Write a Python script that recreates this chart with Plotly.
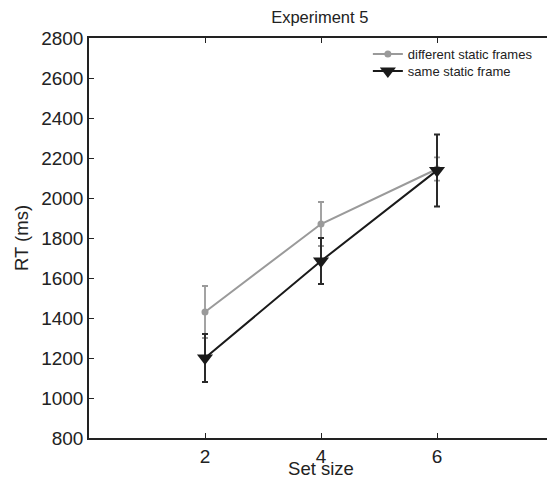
import plotly.graph_objects as go

set_sizes = [2, 4, 6]
diff_rt = [1430, 1870, 2145]
diff_err = [130, 110, 58]
same_rt = [1200, 1685, 2138]
same_err = [120, 115, 180]
y_ticks = [800, 1000, 1200, 1400, 1600, 1800, 2000, 2200, 2400, 2600, 2800]

fig = go.Figure()
fig.add_trace(go.Scatter(
    x=set_sizes, y=diff_rt, mode="lines+markers", name="different static frames",
    line=dict(color="#9a9a9a", width=2),
    marker=dict(symbol="circle", size=7, color="#9a9a9a"),
    error_y=dict(type="data", array=diff_err, color="#9a9a9a", thickness=1.8, width=3),
    legend="legend",
))
fig.add_trace(go.Scatter(
    x=set_sizes, y=same_rt, mode="lines+markers", name="same static frame",
    line=dict(color="#1a1a1a", width=2),
    marker=dict(symbol="triangle-down", size=14, color="#1a1a1a"),
    error_y=dict(type="data", array=same_err, color="#2a2a2a", thickness=2, width=3),
    legend="legend2",
))

leg_common = dict(xanchor="left", yanchor="middle", bgcolor="rgba(0,0,0,0)",
                  font=dict(size=13, color="#222"), itemwidth=30)

fig.update_layout(
    width=547, height=471,
    margin=dict(l=81, r=2, t=30, b=41, autoexpand=False),
    paper_bgcolor="white", plot_bgcolor="white",
    font=dict(family="Liberation Sans, Arial, sans-serif", color="#222", size=16),
    title=dict(text="Experiment 5", x=0.570, xanchor="center", y=0.98, yanchor="middle",
               font=dict(size=16.5, color="#222")),
    showlegend=True,
    legend=dict(x=0.601, y=0.96, **leg_common),
    legend2=dict(x=0.601, y=0.9175, **leg_common),
    xaxis=dict(range=[0, 8], tickvals=set_sizes, ticktext=[str(s) for s in set_sizes],
               ticks="inside", ticklen=5, tickwidth=1, tickcolor="#222",
               showline=True, linecolor="#222", linewidth=1.5, mirror="ticks",
               showgrid=False, zeroline=False, automargin=False,
               title=dict(text="Set size", font=dict(size=18.5), standoff=0),
               tickfont=dict(size=19)),
    yaxis=dict(range=[800, 2800], tickvals=y_ticks,
               ticks="inside", ticklen=5, tickwidth=1, tickcolor="#222",
               showline=True, linecolor="#222", linewidth=1.5, mirror="ticks",
               showgrid=False, zeroline=False, automargin=False,
               title=dict(text="RT (ms)", font=dict(size=18.5), standoff=8),
               tickfont=dict(size=19)),
)

fig.write_html("out.html")
